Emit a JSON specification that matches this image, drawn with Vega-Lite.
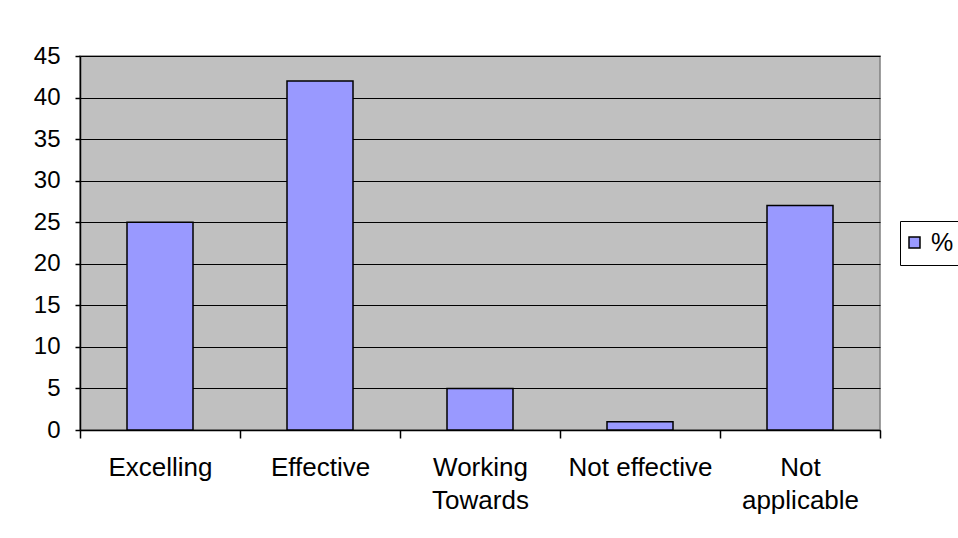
{
  "$schema": "https://vega.github.io/schema/vega-lite/v6.json",
  "width": 800,
  "height": 374,
  "autosize": "none",
  "padding": {"left": 80, "top": 56, "right": 78, "bottom": 108},
  "background": "white",
  "data": {"values": [
    {"category": "Excelling", "value": 25, "series": "%"},
    {"category": "Effective", "value": 42, "series": "%"},
    {"category": "Working Towards", "value": 5, "series": "%"},
    {"category": "Not effective", "value": 1, "series": "%"},
    {"category": "Not applicable", "value": 27, "series": "%"}
  ]},
  "mark": {"type": "bar", "stroke": "black", "strokeWidth": 1.5, "width": {"band": 0.4125}},
  "encoding": {
    "x": {
      "field": "category", "type": "nominal", "sort": null,
      "scale": {"paddingInner": 0, "paddingOuter": 0},
      "axis": {
        "title": null, "labelAngle": 0, "tickBand": "extent",
        "domainColor": "black", "domainWidth": 1.5, "tickColor": "black", "tickWidth": 1.5, "tickSize": 8,
        "labelFont": "Liberation Sans", "labelFontSize": 26, "labelColor": "black",
        "labelPadding": 16, "labelLineHeight": 33, "labelBaseline": "top",
        "labelExpr": "datum.label == 'Working Towards' ? ['Working','Towards'] : datum.label == 'Not applicable' ? ['Not','applicable'] : datum.label"
      }
    },
    "y": {
      "field": "value", "type": "quantitative",
      "scale": {"domain": [0, 45], "nice": false},
      "axis": {
        "title": null, "values": [0,5,10,15,20,25,30,35,40,45],
        "grid": true, "gridColor": "black", "gridWidth": 1.2, "gridOpacity": 1,
        "domainColor": "black", "domainWidth": 1.5, "tickColor": "black", "tickWidth": 1.5, "tickSize": 5,
        "labelFont": "Liberation Sans", "labelFontSize": 24, "labelColor": "black", "labelPadding": 15
      }
    },
    "color": {
      "field": "series", "type": "nominal",
      "scale": {"domain": ["%"], "range": ["#9999FF"]},
      "legend": {
        "title": null, "orient": "none", "legendX": 820, "legendY": 165,
        "symbolType": "square", "symbolSize": 121, "symbolStrokeColor": "black", "symbolStrokeWidth": 1.5,
        "symbolOffset": -7,
        "labelFont": "Liberation Sans", "labelFontSize": 25, "labelColor": "black",
        "strokeColor": "black", "fillColor": "white", "padding": 9, "labelOffset": 4
      }
    }
  },
  "config": {
    "view": {"fill": "#C0C0C0", "stroke": "#808080", "strokeWidth": 1.5}
  }
}
